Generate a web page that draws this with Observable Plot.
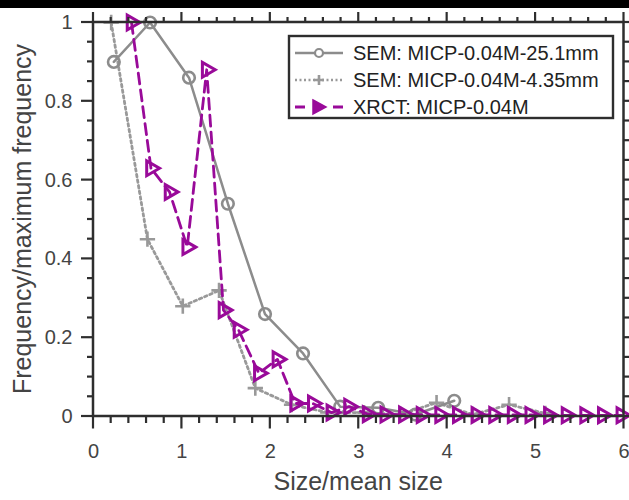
<!DOCTYPE html>
<html>
<head>
<meta charset="utf-8">
<script src="https://cdn.jsdelivr.net/npm/d3@7"></script>
<script src="https://cdn.jsdelivr.net/npm/@observablehq/plot@0.6"></script>
<style>
  html, body { margin: 0; padding: 0; background: #fff; }
  #chart svg { display: block; }
</style>
</head>
<body>
<div id="chart"></div>
<script>
// ---- data ----
const sem25X = [0.23, 0.64, 1.08, 1.52, 1.94, 2.37, 2.79, 3.22, 3.64, 4.08];
const sem25Y = [0.90, 1.00, 0.86, 0.54, 0.26, 0.16, 0.025, 0.022, 0.005, 0.04];

const sem435X = [0.20, 0.61, 1.01, 1.42, 1.83, 2.24, 2.65, 3.06, 3.47, 3.88, 4.29, 4.70, 5.11];
const sem435Y = [1.00, 0.45, 0.28, 0.32, 0.072, 0.03, 0.01, 0.01, 0.005, 0.035, 0.005, 0.03, 0.008];

const xrctX = [0.43, 0.65, 0.86, 1.06, 1.28, 1.47, 1.64, 1.87, 2.08, 2.28, 2.48, 2.69, 2.89, 3.10, 3.30, 3.51, 3.71, 3.92, 4.12, 4.33, 4.53, 4.74, 4.94, 5.15, 5.35, 5.56, 5.76, 5.97];
const xrctY = [1.00, 0.63, 0.57, 0.43, 0.88, 0.27, 0.22, 0.11, 0.145, 0.033, 0.033, 0.01, 0.025, 0.006, 0.005, 0.005, 0.004, 0.004, 0.004, 0.004, 0.004, 0.004, 0.004, 0.003, 0.003, 0.003, 0.003, 0.003];

const seriesNames = ["SEM: MICP-0.04M-25.1mm", "SEM: MICP-0.04M-4.35mm", "XRCT: MICP-0.04M"];
const xTicks = [0, 1, 2, 3, 4, 5, 6];
const yTicks = [0, 0.2, 0.4, 0.6, 0.8, 1];
const xLabel = "Size/mean size";
const yLabel = "Frequency/maximum frequency";

// ---- tables built from the arrays ----
const sem25 = sem25X.map((x, i) => ({x, y: sem25Y[i]}));
const sem435 = sem435X.map((x, i) => ({x, y: sem435Y[i]}));
const xrct = xrctX.map((x, i) => ({x, y: xrctY[i]}));

const xMinor = d3.range(0, 6.001, 0.2).filter(v => Math.abs(v - Math.round(v)) > 1e-6);
const yMinor = d3.range(0, 1.0001, 0.05).filter(v => Math.abs(v * 5 - Math.round(v * 5)) > 1e-6);

const GREY = "#8c8c8c";
const GREY2 = "#999999";
const PURPLE = "#990a99";
const AX = "#2e2e2e";
const TXT = "#444";
const FONT = "'Liberation Sans', Arial, Helvetica, sans-serif";

const W = 629, H = 500;
const mL = 93, mR = 5.5, mT = 22, mB = 84;

const chart = Plot.plot({
  width: W,
  height: H,
  marginLeft: mL,
  marginRight: mR,
  marginTop: mT,
  marginBottom: mB,
  style: {fontFamily: FONT, background: "white", overflow: "visible", color: TXT},
  x: {domain: [0, 6]},
  y: {domain: [0, 1]},
  marks: [
    Plot.line(sem435, {x: "x", y: "y", stroke: GREY2, strokeWidth: 2.8, strokeDasharray: "2.5,3.2"}),
    Plot.dot(sem435, {x: "x", y: "y", symbol: "plus", r: 5, stroke: GREY2, strokeWidth: 2.6}),
    Plot.line(sem25, {x: "x", y: "y", stroke: GREY, strokeWidth: 2.5}),
    Plot.dot(sem25, {x: "x", y: "y", symbol: "circle", r: 5.8, stroke: GREY, strokeWidth: 2.6, fill: "none"}),
    Plot.line(xrct, {x: "x", y: "y", stroke: PURPLE, strokeWidth: 2.8, strokeDasharray: "11,6"}),
    Plot.dot(xrct, {x: "x", y: "y", symbol: "triangle", rotate: 90, r: 5.5, stroke: PURPLE, strokeWidth: 3, fill: "none"}),
    Plot.axisX({ticks: xTicks, tickSize: 0, tickPadding: 27, fontSize: 20, fill: TXT, label: null, tickFormat: "~g"}),
    Plot.axisY({ticks: yTicks, tickSize: 0, tickPadding: 21, fontSize: 20, fill: TXT, label: null, tickFormat: "~g"})
  ]
});

document.getElementById("chart").appendChild(chart);

const svg = d3.select(chart);
const sx = v => chart.scale("x").apply(v);
const sy = v => chart.scale("y").apply(v);
const x0 = sx(0), x1 = sx(6), y0 = sy(0), y1 = sy(1);

// ticks (outward, all four sides), drawn through Plot's scales
const tg = svg.append("g").attr("stroke", AX).attr("stroke-width", 2.2);
xTicks.forEach(v => {
  tg.append("line").attr("x1", sx(v)).attr("x2", sx(v)).attr("y1", y0).attr("y2", y0 + 12.5);
  tg.append("line").attr("x1", sx(v)).attr("x2", sx(v)).attr("y1", y1).attr("y2", y1 - 10);
});
xMinor.forEach(v => {
  tg.append("line").attr("x1", sx(v)).attr("x2", sx(v)).attr("y1", y0).attr("y2", y0 + 7);
  tg.append("line").attr("x1", sx(v)).attr("x2", sx(v)).attr("y1", y1).attr("y2", y1 - 5);
});
yTicks.forEach(v => {
  tg.append("line").attr("y1", sy(v)).attr("y2", sy(v)).attr("x1", x0).attr("x2", x0 - 12);
  tg.append("line").attr("y1", sy(v)).attr("y2", sy(v)).attr("x1", x1).attr("x2", x1 + 10);
});
yMinor.forEach(v => {
  tg.append("line").attr("y1", sy(v)).attr("y2", sy(v)).attr("x1", x0).attr("x2", x0 - 6);
  tg.append("line").attr("y1", sy(v)).attr("y2", sy(v)).attr("x1", x1).attr("x2", x1 + 6);
});
// frame box
svg.append("rect").attr("x", x0).attr("y", y1).attr("width", x1 - x0).attr("height", y0 - y1)
  .attr("fill", "none").attr("stroke", AX).attr("stroke-width", 2.5);

// top black band (from the cropped figure)
svg.append("rect").attr("x", 0).attr("y", 0).attr("width", W).attr("height", 8).attr("fill", "#000");

// axis titles
svg.append("text")
  .attr("x", (x0 + x1) / 2).attr("y", 490)
  .attr("text-anchor", "middle")
  .attr("font-family", FONT).attr("font-size", 25).attr("fill", TXT)
  .text(xLabel);
svg.append("text")
  .attr("transform", `translate(31,${(y0 + y1) / 2}) rotate(-90)`)
  .attr("text-anchor", "middle")
  .attr("font-family", FONT).attr("font-size", 25).attr("fill", TXT)
  .text(yLabel);

// legend
const lg = svg.append("g");
lg.append("rect").attr("x", 289).attr("y", 36).attr("width", 324).attr("height", 82)
  .attr("fill", "white").attr("stroke", AX).attr("stroke-width", 2.4);
const rows = [53, 80, 107];
lg.append("line").attr("x1", 295).attr("x2", 343).attr("y1", rows[0]).attr("y2", rows[0])
  .attr("stroke", GREY).attr("stroke-width", 2.5);
lg.append("circle").attr("cx", 319).attr("cy", rows[0]).attr("r", 4)
  .attr("fill", "white").attr("stroke", GREY).attr("stroke-width", 2.2);
lg.append("line").attr("x1", 295).attr("x2", 343).attr("y1", rows[1]).attr("y2", rows[1])
  .attr("stroke", GREY2).attr("stroke-width", 2.4).attr("stroke-dasharray", "2,2.5");
lg.append("path").attr("d", `M314,${rows[1]}h10M319,${rows[1]-5}v10`)
  .attr("stroke", GREY2).attr("stroke-width", 2.6).attr("fill", "none");
lg.append("line").attr("x1", 295).attr("x2", 343).attr("y1", rows[2]).attr("y2", rows[2])
  .attr("stroke", PURPLE).attr("stroke-width", 2.8).attr("stroke-dasharray", "10,28");
lg.append("path").attr("d", `M313,${rows[2]-7}L326,${rows[2]}L313,${rows[2]+7}Z`)
  .attr("fill", PURPLE).attr("stroke", PURPLE).attr("stroke-width", 1.5);
seriesNames.forEach((name, i) => {
  lg.append("text").attr("x", 353).attr("y", rows[i]).attr("dy", "0.36em")
    .attr("text-anchor", "start")
    .attr("font-family", FONT).attr("font-size", 20).attr("fill", "#222")
    .text(name);
});
</script>
</body>
</html>
